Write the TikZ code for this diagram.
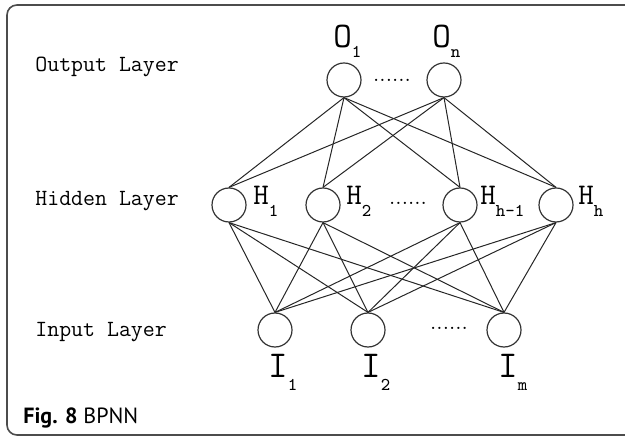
\documentclass[tikz,border=0pt]{standalone}
\usepackage{fontspec}
\setsansfont{PT Sans}
\newcommand{\nlbl}[4]{{\fontsize{#3}{#3}\selectfont #1}\raisebox{#4}{\fontsize{9}{9}\selectfont #2}}
\begin{document}
\begin{tikzpicture}[x=0.5pt,y=-0.5pt,
    neuron/.style={circle,draw=black!80,line width=0.6pt,minimum size=17pt,inner sep=0pt},
    layertext/.style={anchor=base west,inner sep=0pt,font=\ttfamily\fontsize{11.6}{14}\selectfont},
    lbl/.style={anchor=base west,inner sep=0pt,font=\ttfamily},
    dots/.style={inner sep=0pt,font=\fontsize{11.5}{11.5}\selectfont},
    link/.style={draw=black!85,line width=0.5pt}]
  \useasboundingbox (0,0) rectangle (625,437);
  \clip (0,0) rectangle (625,437);
  \draw[black!70,line width=0.8pt,rounded corners=5pt] (7,5) rectangle (660,435);

  \node[layertext] (outtxt) at (35,72) {Output Layer};
  \node[layertext] (hidtxt) at (35,206) {Hidden Layer};
  \node[layertext] (intxt) at (35,337) {Input Layer};

  \node[neuron] (o1) at (344,80) {};
  \node[neuron] (on) at (444,80) {};
  \node[neuron] (h1) at (229,205) {};
  \node[neuron] (h2) at (323,205) {};
  \node[neuron] (hh1) at (460,205) {};
  \node[neuron] (hh) at (556,205) {};
  \node[neuron] (i1) at (275,330) {};
  \node[neuron] (i2) at (368,330) {};
  \node[neuron] (im) at (504,330) {};

  \foreach \a in {o1,on}
    \foreach \b in {h1,h2,hh1,hh}
      \draw[link] (\a.south) -- (\b.north);
  \foreach \a in {h1,h2,hh1,hh}
    \foreach \b in {i1,i2,im}
      \draw[link] (\a.south) -- (\b.north);

  \node[dots] (odots) at (392,80) {......};
  \node[dots] (hdots) at (408,203) {......};
  \node[dots] (idots) at (449,328) {......};

  \node[lbl] (o1lbl) at (333,48) {\nlbl{O}{1}{18}{-5pt}};
  \node[lbl] (onlbl) at (432,48) {\nlbl{O}{n}{18}{-5pt}};
  \node[lbl] (h1lbl) at (253,205) {\nlbl{H}{1}{15}{-6pt}};
  \node[lbl] (h2lbl) at (346,205) {\nlbl{H}{2}{15}{-6pt}};
  \node[lbl] (hh1lbl) at (480,205) {\nlbl{H}{h-1}{15}{-6pt}};
  \node[lbl] (hhlbl) at (578,205) {\nlbl{H}{h}{15}{-6pt}};
  \node[lbl] (i1lbl) at (268,378) {\nlbl{I}{1}{19}{-6pt}};
  \node[lbl] (i2lbl) at (361,378) {\nlbl{I}{2}{19}{-6pt}};
  \node[lbl] (imlbl) at (498,378) {\nlbl{I}{m}{19}{-6pt}};

  \node[anchor=base west,inner sep=0pt,font=\sffamily\fontsize{11}{13}\selectfont] (cap) at (23,423) {\textbf{Fig. 8} BPNN};
\end{tikzpicture}
\end{document}
